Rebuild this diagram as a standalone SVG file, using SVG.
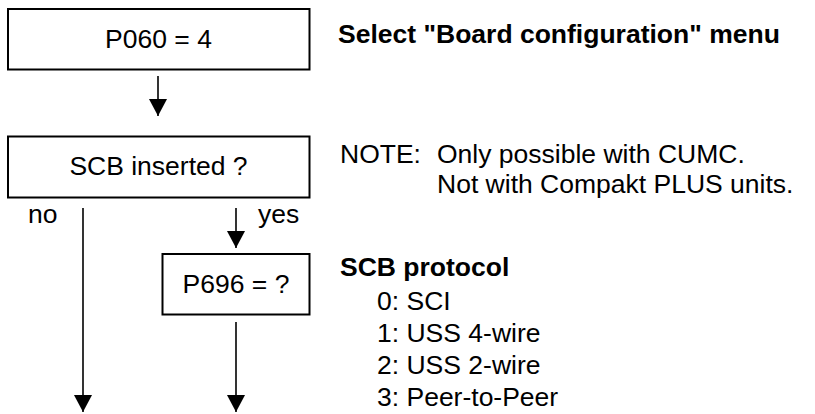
<svg xmlns="http://www.w3.org/2000/svg" width="815" height="414" viewBox="0 0 815 414">
<style>
.box{fill:#fff;stroke:#000;stroke-width:2}
.t{font-family:"Liberation Sans",Arial,sans-serif;font-size:26.5px;fill:#000}
.b{font-weight:bold}
.c{text-anchor:middle}
.ln{stroke:#000;stroke-width:1.6;fill:none}
.ah{fill:#000}
</style>
<defs>
<marker id="arr" viewBox="0 0 17 18" refX="17" refY="9" markerWidth="17" markerHeight="18" markerUnits="userSpaceOnUse" orient="auto">
<path d="M0,0 L17,9 L0,18 Z" class="ah"/>
</marker>
</defs>
<rect width="815" height="414" fill="#fff"/>
<g id="n1">
<rect class="box" x="8" y="9" width="301.5" height="60.5"/>
<text class="t c" x="158.5" y="48">P060 = 4</text>
</g>
<g id="n2">
<rect class="box" x="8" y="136.5" width="301.5" height="61"/>
<text class="t c" x="158.5" y="175">SCB inserted ?</text>
</g>
<g id="n3">
<rect class="box" x="162.5" y="254" width="147" height="60.5"/>
<text class="t c" x="236" y="293">P696 = ?</text>
</g>
<g id="connectors">
<line class="ln" x1="158" y1="76" x2="158" y2="116" marker-end="url(#arr)"/>
<line class="ln" x1="83" y1="208" x2="83" y2="412" marker-end="url(#arr)"/>
<line class="ln" x1="236" y1="208" x2="236" y2="248" marker-end="url(#arr)"/>
<line class="ln" x1="236" y1="322" x2="236" y2="412" marker-end="url(#arr)"/>
<text class="t" x="28" y="223">no</text>
<text class="t" x="258" y="223">yes</text>
</g>
<g id="notes">
<text class="t b" x="338" y="43">Select "Board configuration" menu</text>
<text class="t" x="340" y="163">NOTE:</text>
<text class="t" x="437" y="163">Only possible with CUMC.</text>
<text class="t" x="437" y="193">Not with Compakt PLUS units.</text>
<text class="t b" x="340" y="276">SCB protocol</text>
<text class="t" x="377" y="310">0: SCI</text>
<text class="t" x="377" y="342">1: USS 4-wire</text>
<text class="t" x="377" y="374">2: USS 2-wire</text>
<text class="t" x="377" y="406">3: Peer-to-Peer</text>
</g>
</svg>
